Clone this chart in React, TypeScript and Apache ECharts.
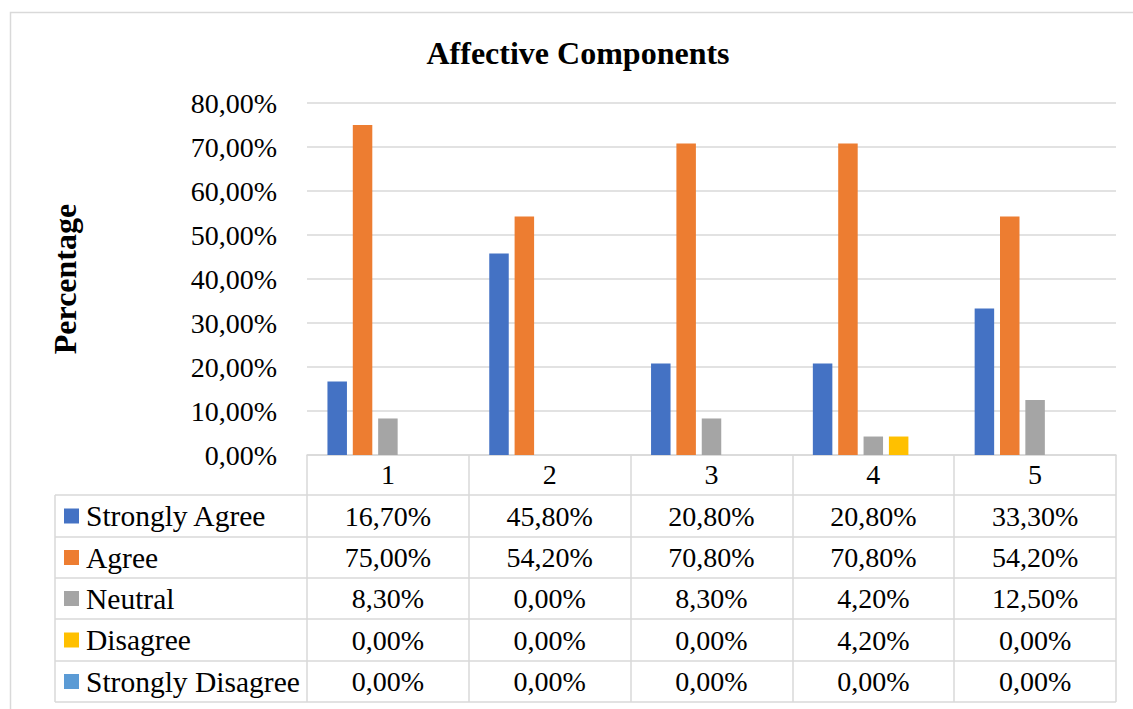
import React, { useEffect, useRef } from "react";
import * as echarts from "echarts";

const categories = ["1", "2", "3", "4", "5"];
const seriesNames = ["Strongly Agree", "Agree", "Neutral", "Disagree", "Strongly Disagree"];
const stronglyAgree = [16.7, 45.8, 20.8, 20.8, 33.3];
const agree = [75.0, 54.2, 70.8, 70.8, 54.2];
const neutral = [8.3, 0.0, 8.3, 4.2, 12.5];
const disagree = [0.0, 0.0, 0.0, 4.2, 0.0];
const stronglyDisagree = [0.0, 0.0, 0.0, 0.0, 0.0];
const seriesValues = [stronglyAgree, agree, neutral, disagree, stronglyDisagree];
const colors = ["#4472C4", "#ED7D31", "#A5A5A5", "#FFC000", "#5B9BD5"];
const chartTitle = "Affective Components";
const yTitle = "Percentage";

const W = 1133;
const H = 709;
const FONT = '"Liberation Serif", "Times New Roman", serif';
const LINE = "#d9d9d9";

const gridLeft = 307;
const gridRight = 1116;
const gridTop = 103;
const gridBottom = 455;
const headerBottom = 495;
const rowLines = [495, 537, 578, 619, 661, 702];
const tableLeft = 55;

const fmt = (v: number) => v.toFixed(2).replace(".", ",") + "%";

export default function App() {
  const ref = useRef<HTMLDivElement>(null);
  useEffect(() => {
    document.body.style.margin = "0";
    if (!ref.current) return;
    const chart = echarts.init(ref.current, undefined, { renderer: "svg" });
    const catW = (gridRight - gridLeft) / categories.length;

    const graphics: any[] = [];
    graphics.push({
      type: "rect",
      shape: { x: 10.5, y: 12.5, width: 1400, height: 900 },
      style: { fill: "none", stroke: LINE, lineWidth: 1.5 },
      silent: true,
    });
    graphics.push({
      type: "text",
      x: 578,
      y: 53,
      style: {
        text: chartTitle,
        font: `bold 32px ${FONT}`,
        fill: "#000",
        textAlign: "center",
        textVerticalAlign: "middle",
      },
    });
    graphics.push({
      type: "text",
      x: 65,
      y: 279,
      rotation: Math.PI / 2,
      style: {
        text: yTitle,
        font: `bold 32px ${FONT}`,
        fill: "#000",
        textAlign: "center",
        textVerticalAlign: "middle",
      },
    });
    rowLines.forEach((y) => {
      graphics.push({
        type: "line",
        shape: { x1: tableLeft, y1: y, x2: gridRight, y2: y },
        style: { stroke: LINE, lineWidth: 1.5 },
        silent: true,
      });
    });
    graphics.push({
      type: "line",
      shape: { x1: tableLeft, y1: headerBottom, x2: tableLeft, y2: rowLines[rowLines.length - 1] },
      style: { stroke: LINE, lineWidth: 1.5 },
      silent: true,
    });
    seriesNames.forEach((name, r) => {
      const cy = (rowLines[r] + rowLines[r + 1]) / 2;
      graphics.push({
        type: "rect",
        shape: { x: 64, y: cy - 7.5, width: 15, height: 15 },
        style: { fill: colors[r] },
      });
      graphics.push({
        type: "text",
        x: 86,
        y: cy,
        style: {
          text: name,
          font: `29.5px ${FONT}`,
          fill: "#000",
          textAlign: "left",
          textVerticalAlign: "middle",
        },
      });
      seriesValues[r].forEach((v, c) => {
        graphics.push({
          type: "text",
          x: gridLeft + (c + 0.5) * catW,
          y: cy,
          style: {
            text: fmt(v),
            font: `28px ${FONT}`,
            fill: "#000",
            textAlign: "center",
            textVerticalAlign: "middle",
          },
        });
      });
    });

    chart.setOption({
      animation: false,
      backgroundColor: "#fff",
      grid: {
        left: gridLeft,
        top: gridTop,
        width: gridRight - gridLeft,
        height: gridBottom - gridTop,
        containLabel: false,
      },
      xAxis: {
        type: "category",
        data: categories,
        boundaryGap: true,
        axisLine: { show: true, lineStyle: { color: LINE, width: 1.5 } },
        axisTick: {
          show: true,
          length: rowLines[rowLines.length - 1] - gridBottom,
          lineStyle: { color: LINE, width: 1.5 },
        },
        axisLabel: {
          fontFamily: FONT,
          fontSize: 28,
          color: "#000",
          margin: 19,
          verticalAlign: "middle",
        },
      },
      yAxis: {
        type: "value",
        min: 0,
        max: 80,
        interval: 10,
        axisLine: { show: false },
        axisTick: { show: false },
        splitLine: { lineStyle: { color: LINE, width: 1.5 } },
        axisLabel: {
          fontFamily: FONT,
          fontSize: 28,
          color: "#000",
          margin: 30,
          formatter: (v: number) => fmt(v),
        },
      },
      series: seriesNames.map((name, i) => ({
        name,
        type: "bar",
        data: seriesValues[i],
        barWidth: 19.5,
        barGap: "30%",
        itemStyle: { color: colors[i] },
      })),
      graphic: graphics,
    });
    return () => chart.dispose();
  }, []);
  return <div ref={ref} style={{ width: W, height: H }} />;
}
